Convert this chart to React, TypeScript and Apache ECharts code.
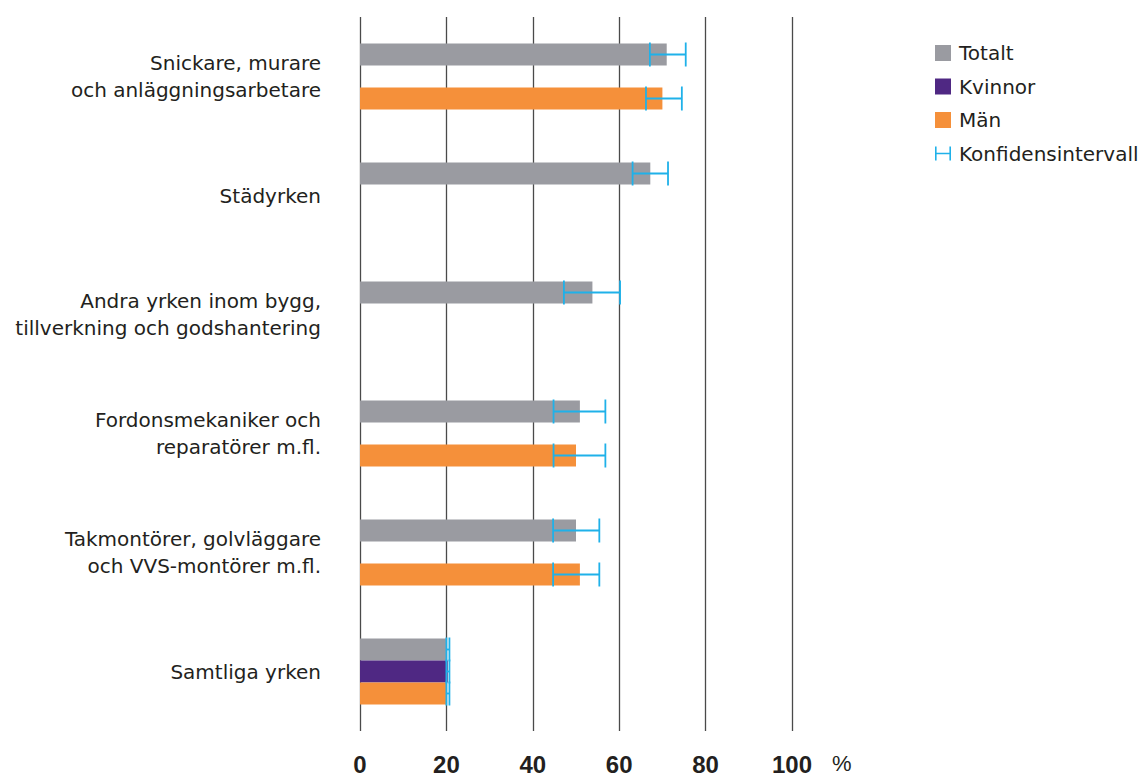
import React, { useEffect, useRef } from "react";
import * as echarts from "echarts";

const categories = [
  "Snickare, murare\noch anläggningsarbetare",
  "Städyrken",
  "Andra yrken inom bygg,\ntillverkning och godshantering",
  "Fordonsmekaniker och\nreparatörer m.fl.",
  "Takmontörer, golvläggare\noch VVS-montörer m.fl.",
  "Samtliga yrken",
];
const seriesNames = ["Totalt", "Kvinnor", "Män"];
const totalt = [71.0, 67.2, 53.8, 50.9, 50.0, 19.9];
const kvinnor = [null, null, null, null, null, 20.3];
const man = [70.0, null, null, 50.0, 50.9, 19.9];
const totaltLow = [67.1, 63.1, 47.2, 44.8, 44.7, 20.0];
const totaltHigh = [75.4, 71.3, 60.2, 56.8, 55.4, 20.7];
const kvinnorLow = [null, null, null, null, null, 20.0];
const kvinnorHigh = [null, null, null, null, null, 20.7];
const manLow = [66.2, null, null, 44.8, 44.7, 20.0];
const manHigh = [74.5, null, null, 56.8, 55.4, 20.7];
const xTicks = [0, 20, 40, 60, 80, 100];
const ciName = "Konfidensintervall";
const unitLabel = "%";

const COLORS = ["#9a9ba1", "#4f2883", "#f5903a"];
const CI_COLOR = "#1fb1e9";
const BAR_W = 22;
const FONT = "DejaVu Sans";
const NUM_FONT = "Liberation Sans";

export default function App() {
  const ref = useRef<HTMLDivElement>(null);
  useEffect(() => {
    if (!ref.current) return;
    const chart = echarts.init(ref.current, null, { renderer: "svg" });
    const values = [totalt, kvinnor, man];
    const lows = [totaltLow, kvinnorLow, manLow];
    const highs = [totaltHigh, kvinnorHigh, manHigh];
    const ciData: any[] = [];
    for (let s = 0; s < 3; s++) {
      for (let c = 0; c < categories.length; c++) {
        if (lows[s][c] != null && highs[s][c] != null) {
          ciData.push([c, lows[s][c], highs[s][c], s]);
        }
      }
    }
    const barSeries = seriesNames.map((name, i) => ({
      name,
      type: "bar",
      data: values[i].map((v) => (v == null ? "-" : v)),
      barWidth: BAR_W,
      barGap: "0%",
      itemStyle: { color: COLORS[i] },
      z: 2,
    }));
    chart.setOption({
      animation: false,
      textStyle: { fontFamily: FONT },
      grid: { left: 360, right: 355, top: 17, height: 719, containLabel: false },
      legend: {
        orient: "vertical",
        left: 930,
        top: 38,
        itemWidth: 16,
        itemHeight: 16,
        itemGap: 13.5,
        selectedMode: false,
        textStyle: { fontSize: 20, color: "#231f20", fontFamily: FONT, padding: [0, 0, 0, 3] },
        data: [
          { name: "Totalt", icon: "rect" },
          { name: "Kvinnor", icon: "rect" },
          { name: "Män", icon: "rect" },
          {
            name: ciName,
            icon: "path://M0,1h1.6v6.2h12.8v-6.2h1.6v14h-1.6v-6.2h-12.8v6.2h-1.6z",
            itemStyle: { color: CI_COLOR },
          },
        ],
      },
      xAxis: {
        type: "value",
        min: 0,
        max: 100,
        interval: 20,
        name: unitLabel,
        nameLocation: "end",
        nameGap: 40,
        nameTextStyle: {
          fontSize: 22,
          fontFamily: NUM_FONT,
          color: "#231f20",
          verticalAlign: "top",
          padding: [21, 0, 0, 0],
        },
        axisLine: { show: false },
        axisTick: { show: false },
        splitLine: { show: true, lineStyle: { color: "#4a4a4a", width: 1.3 } },
        axisLabel: {
          margin: 21,
          fontSize: 24,
          fontWeight: "bold",
          color: "#231f20",
          fontFamily: NUM_FONT,
          customValues: xTicks,
        },
      },
      yAxis: {
        type: "category",
        inverse: true,
        data: categories,
        axisLine: { show: false },
        axisTick: { show: false },
        axisLabel: {
          margin: 39,
          fontSize: 20,
          lineHeight: 27,
          color: "#231f20",
          fontFamily: FONT,
          align: "right",
        },
      },
      series: [
        ...barSeries,
        {
          name: ciName,
          type: "custom",
          itemStyle: { color: CI_COLOR },
          encode: { x: [1, 2], y: 0 },
          z: 5,
          data: ciData,
          renderItem: (params: any, api: any) => {
            const cat = api.value(0);
            const lo = api.value(1);
            const hi = api.value(2);
            const s = api.value(3);
            const p1 = api.coord([lo, cat]);
            const p2 = api.coord([hi, cat]);
            const y = p1[1] + (s - 1) * BAR_W;
            const h = 12;
            const style = { stroke: CI_COLOR, lineWidth: 1.8, fill: "none" };
            return {
              type: "group",
              children: [
                { type: "line", shape: { x1: p1[0], y1: y, x2: p2[0], y2: y }, style },
                { type: "line", shape: { x1: p1[0], y1: y - h, x2: p1[0], y2: y + h }, style },
                { type: "line", shape: { x1: p2[0], y1: y - h, x2: p2[0], y2: y + h }, style },
              ],
            };
          },
        },
      ],
    });
    return () => chart.dispose();
  }, []);
  return (
    <div
      ref={ref}
      style={{ position: "fixed", left: 0, top: 0, width: 1147, height: 776, background: "#fff" }}
    />
  );
}
